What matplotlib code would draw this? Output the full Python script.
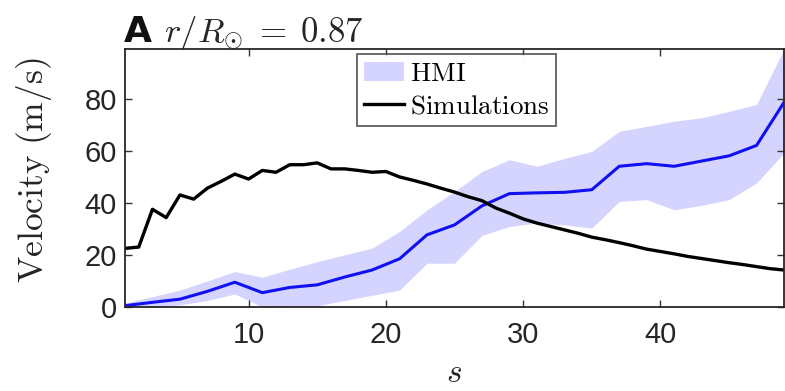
import matplotlib
matplotlib.use("Agg")
import matplotlib.pyplot as plt
import numpy as np

plt.rcParams['mathtext.fontset'] = 'cm'

# Simulation curve (s = 1..49)
sim_s = list(range(1, 50))
sim_v = [22.5, 23, 37.5, 34.3, 43, 41.4, 45.6, 48.2, 51, 49.1,
         52.4, 51.7, 54.6, 54.6, 55.3, 53, 53, 52.4, 51.7, 52,
         49.9, 48.6, 47.2, 45.6, 44.1, 42.3, 40.8, 38, 36, 33.8,
         32.2, 30.9, 29.6, 28.3, 26.8, 25.8, 24.7, 23.5, 22.2, 21.3,
         20.4, 19.4, 18.6, 17.8, 17, 16.3, 15.5, 14.7, 14.2]

# HMI (odd s)
hmi_s = list(range(1, 50, 2))
hmi_mean = [0.5, 1.8, 3, 6, 9.5, 5.5, 7.5, 8.5, 11.5, 14.2,
            18.5, 27.7, 31.5, 38.8, 43.5, 43.8, 44, 45, 54, 55,
            54, 56, 58, 62, 78.5]
hmi_upper = [1.5, 4, 6.5, 10, 13.6, 11.4, 14.5, 17.4, 20, 22.6,
             29, 37.3, 44.3, 52, 56.5, 54, 57, 59.7, 67.4, 69.3,
             71.3, 72.6, 75.1, 77.7, 99]
hmi_lower = [0, 0, 0.8, 2.5, 5, 0, 0.3, 0.5, 2.5, 4.5,
             6.5, 16.8, 16.8, 27.5, 30.9, 32.2, 31.5, 30.3, 40.5, 41.2,
             37.3, 39, 41.2, 47.6, 59.1]

xticks = [10, 20, 30, 40]
yticks = [0, 20, 40, 60, 80]

W, H = 785, 391
fig = plt.figure(figsize=(W / 100, H / 100), dpi=100)
ax = fig.add_axes([125 / W, 1 - 307 / H, (784 - 125) / W, (307 - 49) / H])

ax.fill_between(hmi_s, hmi_lower, hmi_upper, color='#d4d4ff', linewidth=0, label=r'$\mathrm{HMI}$')
ax.plot(hmi_s, hmi_mean, color='#1010f0', lw=2.2)
ax.plot(sim_s, sim_v, color='black', lw=2.4, label=r'$\mathrm{Simulations}$')

ax.set_xlim(1, 49)
ax.set_ylim(0, 99)
ax.set_xticks(xticks)
ax.set_yticks(yticks)
ax.tick_params(direction='in', top=True, right=True, length=5, width=1, color='#333333',
               labelsize=21)
for lab in ax.get_xticklabels() + ax.get_yticklabels():
    lab.set_fontfamily('Liberation Sans')
    lab.set_color('#262626')
ax.tick_params(axis='x', pad=10)
ax.tick_params(axis='y', pad=6)
for sp in ax.spines.values():
    sp.set_color('#262626')
    sp.set_linewidth(1.3)

ax.set_ylabel(r'$\mathrm{Velocity\ (m/s)}$', fontsize=25.5, color='#262626')
ax.yaxis.set_label_coords(-0.108, 0.53)
ax.set_xlabel(r'$s$', fontsize=24, color='#262626', labelpad=5)

leg = ax.legend(loc='upper left', bbox_to_anchor=(0.352, 0.98), fontsize=19.5,
                frameon=True, fancybox=False, edgecolor='#262626', handlelength=1.5,
                handletextpad=0.2, borderpad=0.25, labelspacing=0.25, borderaxespad=0)
leg.get_frame().set_linewidth(1.2)

fig.text(124 / W, 1 - 42 / H, 'A', fontsize=26, fontweight='bold', fontfamily='DejaVu Sans',
         color='#111111', va='baseline')
fig.text(164 / W, 1 - 42 / H, r'$r/R_{\odot}\;=\;0.87$', fontsize=25, color='#262626', va='baseline')

fig.savefig('out.png', dpi=100)
